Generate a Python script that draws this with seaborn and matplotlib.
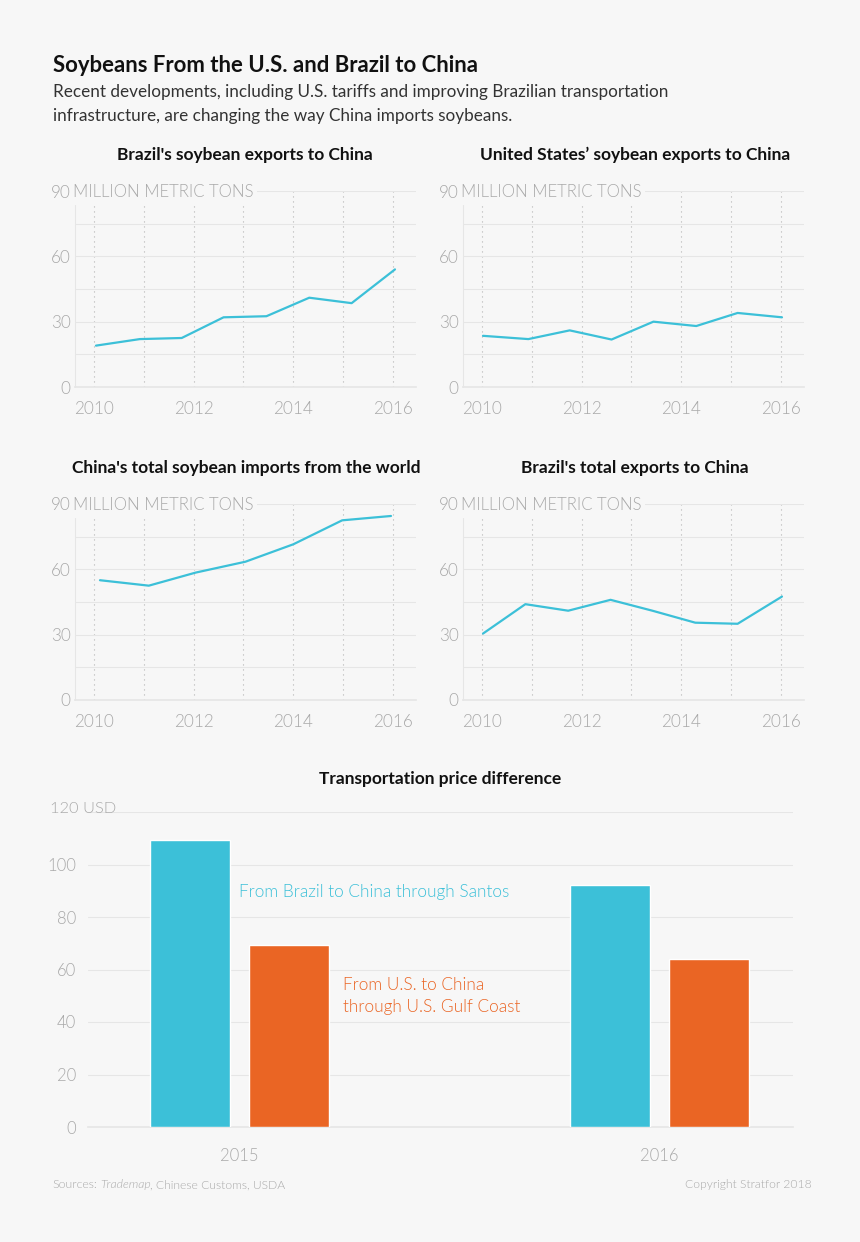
import matplotlib
matplotlib.use('Agg')
import matplotlib.pyplot as plt
from matplotlib import font_manager as fm
import pandas as pd
import seaborn as sns

# Line chart data
brazil_soy_x = [2010.04, 2010.92, 2011.76, 2012.6, 2013.46, 2014.32, 2015.17, 2016.04]
brazil_soy_y = [19, 22, 22.5, 32, 32.5, 41, 38.5, 54]
us_soy_x = [2010.02, 2010.93, 2011.76, 2012.6, 2013.44, 2014.3, 2015.13, 2016.02]
us_soy_y = [23.5, 22, 26, 21.8, 30, 28, 34, 32]
china_x = [2010.12, 2011.1, 2012.04, 2013.04, 2014.0, 2014.98, 2015.96]
china_y = [55, 52.5, 58.5, 63.5, 71.5, 82.5, 84.5]
brazil_total_x = [2010.02, 2010.87, 2011.73, 2012.58, 2013.42, 2014.28, 2015.13, 2016.02]
brazil_total_y = [30.5, 44, 41, 46, 41, 35.5, 35, 47.5]

# Bar chart data
bar_years = ['2015', '2016', '2015', '2016']
bar_routes = ['Santos', 'Santos', 'Gulf', 'Gulf']
bar_prices = [109.4, 92.3, 69.2, 64]

years = [2010, 2011, 2012, 2013, 2014, 2015, 2016]
year_labels = ['2010', '', '2012', '', '2014', '', '2016']
y_ticks = [0, 15, 30, 45, 60, 75, 90]
y_labels = ['0', '', '30', '', '60', '', '90']
bar_ticks = [0, 20, 40, 60, 80, 100, 120]
bar_labels = ['0', '20', '40', '60', '80', '100', '']

BG = '#f7f7f7'
GRID = '#e6e6e6'
GREY = '#a9a9a9'
BLUE = '#3cc0d8'
ORANGE = '#ea6524'
W, H = 860, 1242

sns.set_theme(style='white', rc={'figure.facecolor': BG, 'axes.facecolor': BG})
plt.rcParams['font.family'] = ['Lato', 'DejaVu Sans']

# weight='light' lands on Lato Hairline, so look for the Light file by name
light_files = [f.fname for f in fm.fontManager.ttflist
               if f.name.startswith('Lato') and f.fname.endswith('Lato-Light.ttf')]
light_it_files = [f.fname for f in fm.fontManager.ttflist
                  if f.name.startswith('Lato') and f.fname.endswith('Lato-LightItalic.ttf')]
LIGHT = fm.FontProperties(fname=light_files[0]) if light_files else fm.FontProperties(family='Lato')
LIGHT_IT = (fm.FontProperties(fname=light_it_files[0]) if light_it_files
            else fm.FontProperties(family='Lato', style='italic'))


def light(size):
    fp = LIGHT.copy()
    fp.set_size(size)
    return fp


fig = plt.figure(figsize=(W / 100, H / 100), dpi=100)


def px_axes(left, top, right, bottom):
    return fig.add_axes([left / W, 1 - bottom / H, (right - left) / W, (bottom - top) / H])


def line_panel(left, top, x, y, title, title_x):
    # axes box is 341 wide, 196 tall, x scale pinned to the dotted year lines
    ax = px_axes(left, top, left + 341, top + 196)
    sns.lineplot(x=x, y=y, color=BLUE, linewidth=1.6, ax=ax, zorder=4, estimator=None, sort=False)
    ax.set_xlim(2010 - 19 / 49.83, 2010 + 322 / 49.83)
    ax.set_ylim(0, 90)
    ax.set_yticks(y_ticks)
    ax.set_yticklabels(y_labels)
    ax.set_xticks(years)
    ax.set_xticklabels(year_labels)
    ax.tick_params(length=0, labelcolor=GREY, pad=10)
    ax.tick_params(axis='y', pad=3)
    for lab in ax.get_xticklabels() + ax.get_yticklabels():
        lab.set_fontproperties(light(12.3))
    ax.grid(axis='y', color=GRID, linewidth=0.8)
    ax.grid(axis='x', color='#b5b5b5', linewidth=0.8, linestyle=(0, (1, 3.5)))
    ax.set_axisbelow(True)
    sns.despine(ax=ax, top=True, right=True, left=True, bottom=False)
    ax.spines['bottom'].set_color(GRID)
    ax.plot([0, 0], [0, 0.93], transform=ax.transAxes, color=GRID, linewidth=0.8, clip_on=False)
    ax.text(-0.005, 0.995, 'MILLION METRIC TONS', transform=ax.transAxes, fontproperties=light(12.1), color=GREY,
            va='center', ha='left', bbox=dict(facecolor=BG, edgecolor='none', pad=2.5), zorder=5)
    fig.text(title_x / W, 1 - (top - 36) / H, title, fontsize=12.5, fontweight='bold', color='#111111',
             ha='center', va='center')
    return ax


line_panel(75, 191, brazil_soy_x, brazil_soy_y, "Brazil's soybean exports to China", 245)
line_panel(463, 191, us_soy_x, us_soy_y, 'United States\u2019 soybean exports to China', 635)
line_panel(75, 504, china_x, china_y, "China's total soybean imports from the world", 246)
line_panel(463, 504, brazil_total_x, brazil_total_y, "Brazil's total exports to China", 635)

# Bar chart
bar_df = pd.DataFrame({'year': bar_years, 'route': bar_routes, 'price': bar_prices})
ax = px_axes(88, 812, 793, 1127)
sns.barplot(data=bar_df, x='year', y='price', hue='route', palette=[BLUE, ORANGE], width=0.476, gap=0.2,
            saturation=1, legend=False, ax=ax, zorder=3)
ax.set_xlim(-151.5 / 420, 1 + 133.5 / 420)
ax.set_ylim(0, 120)
ax.set_yticks(bar_ticks)
ax.set_yticklabels(bar_labels)
ax.set_xlabel('')
ax.set_ylabel('')
ax.tick_params(length=0, labelcolor=GREY)
ax.tick_params(axis='y', pad=8.6)
ax.tick_params(axis='x', pad=15)
for lab in ax.get_xticklabels() + ax.get_yticklabels():
    lab.set_fontproperties(light(12))
ax.grid(axis='y', color=GRID, linewidth=0.8)
ax.set_axisbelow(True)
sns.despine(ax=ax, top=True, right=True, left=True, bottom=False)
ax.spines['bottom'].set_color(GRID)

fig.text(50 / W, 1 - 809 / H, '120 USD', fontproperties=light(11.8), color=GREY, va='center', ha='left')
fig.text(239 / W, 1 - 892 / H, 'From Brazil to China through Santos', fontproperties=light(12.4), color=BLUE,
         va='center')
fig.text(343 / W, 1 - 996 / H, 'From U.S. to China\nthrough U.S. Gulf Coast', fontproperties=light(12.4),
         color=ORANGE, va='center', linespacing=1.5)
fig.text(440 / W, 1 - 779 / H, 'Transportation price difference', fontsize=12.5, fontweight='bold',
         color='#111111', ha='center', va='center')

# Header and footer
fig.text(53 / W, 1 - 65 / H, 'Soybeans From the U.S. and Brazil to China', fontsize=15.9, fontweight='bold',
         color='#111111', va='center')
fig.text(53 / W, 1 - 104 / H, 'Recent developments, including U.S. tariffs and improving Brazilian transportation\n'
         'infrastructure, are changing the way China imports soybeans.', fontsize=12.3, color='#333333',
         va='center', linespacing=1.6)
fig.text(52 / W, 1 - 1185 / H, 'Sources:', fontproperties=light(8.8), color='#a9a9a9', va='center')
it = LIGHT_IT.copy()
it.set_size(8.8)
fig.text(100 / W, 1 - 1185 / H, 'Trademap', fontproperties=it, color='#a9a9a9', va='center')
fig.text(150 / W, 1 - 1185 / H, ', Chinese Customs, USDA', fontproperties=light(8.7), color='#a9a9a9', va='center')
fig.text(812 / W, 1 - 1185 / H, 'Copyright Stratfor 2018', fontproperties=light(8.7), color='#a9a9a9',
         va='center', ha='right')

fig.savefig('out.png', dpi=100, facecolor=BG)
